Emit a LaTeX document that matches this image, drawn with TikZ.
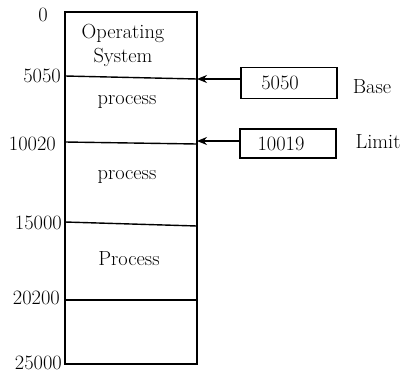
\documentclass[tikz,border=0pt]{standalone}
\usepackage{tikz}
\usetikzlibrary{positioning,arrows.meta}
\tikzset{
	memline/.style={line width=1.4bp},
	regbox/.style={rectangle,draw,line width=1.6bp,minimum width=96bp,minimum height=31bp,inner sep=0pt},
	addr/.style={anchor=east,inner sep=0pt},
	arrow/.style={line width=1.4bp,-{Stealth[length=10bp,width=8bp]}}
}
\begin{document}
\begin{tikzpicture}[x=1bp,y=-1bp,font=\fontsize{20.5}{24}\selectfont]
	\useasboundingbox (0,0) rectangle (402,373);
	% memory column
	\draw[line width=1.8bp] (65,12) rectangle (197,364);
	\coordinate (b1) at (197,79);
	\coordinate (b2) at (197,141);
	\draw[memline] (65,76)--(b1);
	\draw[memline] (65,142)--(197,144);
	\draw[memline] (65,222)--(197,226);
	\draw[memline] (65,300)--(197,300);
	% region names
	\node[align=center,inner sep=0pt] (os) at (123,45) {Operating\\System};
	\node[inner sep=0pt] (p1) at (127,102) {process};
	\node[inner sep=0pt] (p2) at (127,177) {process};
	\node[inner sep=0pt] (p3) at (129,259) {Process};
	% addresses
	\node[inner sep=0pt] (a0) at (43,15) {0};
	\node[addr] (a1) at (61,76) {5050};
	\node[addr] (a2) at (56,144) {10020};
	\node[addr] (a3) at (62,223) {15000};
	\node[addr] (a4) at (60,298) {20200};
	\node[addr] (a5) at (62,363) {25000};
	% registers
	\node[regbox] (base) at (289,83) {\hspace*{-18bp}5050};
	\node[regbox,minimum height=29bp] (limit) at (288,143.5) {\hspace*{-14bp}10019};
	\node[inner sep=0pt] (basel) at (372,87) {Base};
	\node[inner sep=0pt] (limitl) at (378,142) {Limit};
	\draw[arrow] (base.west|-b1)--(b1);
	\draw[arrow] (limit.west|-b2)--(b2);
\end{tikzpicture}
\end{document}
